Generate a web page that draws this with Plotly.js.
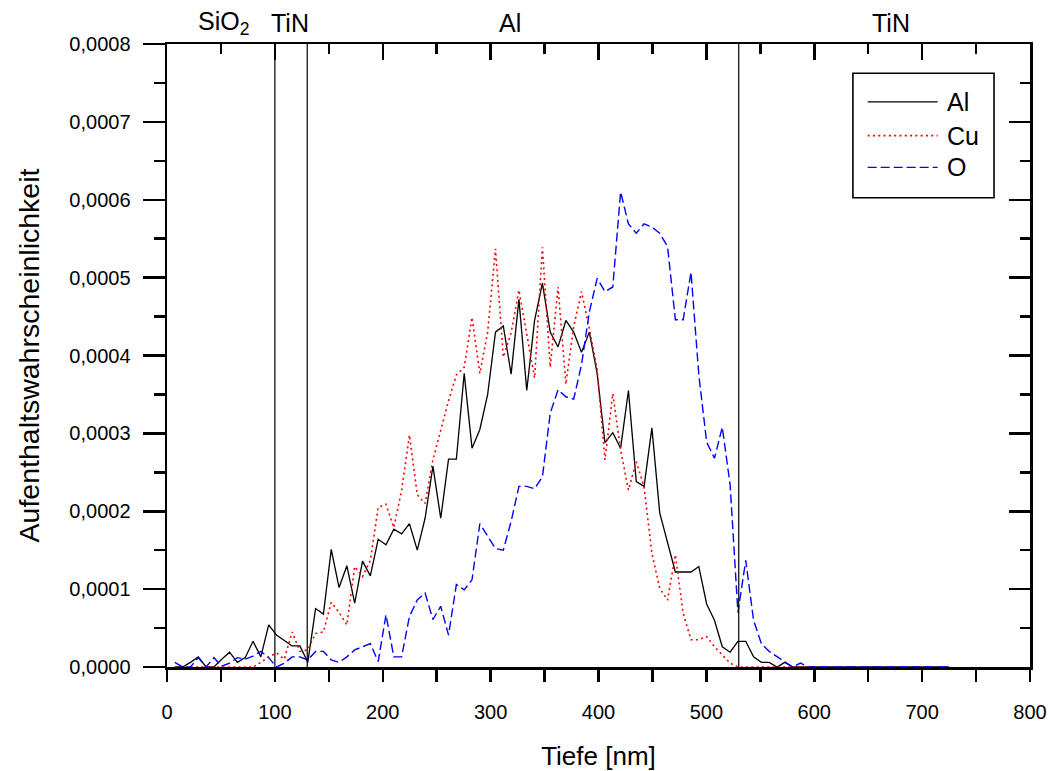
<!DOCTYPE html>
<html>
<head>
<meta charset="utf-8">
<script src="https://cdn.plot.ly/plotly-3.0.1.min.js"></script>
<style>html,body{margin:0;padding:0;background:#fff;}#chart{width:1050px;height:771px;}</style>
</head>
<body>
<div id="chart"></div>
<script>
// Depth (nm)
const depth = [7.25,14.5,21.75,29,36.25,43.5,50.75,58,65.25,72.5,
79.75,87,94.25,101.5,108.75,116,123.25,130.5,137.75,145,
152.25,159.5,166.75,174,181.25,188.5,195.75,203,210.25,217.5,
224.75,232,239.25,246.5,253.75,261,268.25,275.5,282.75,290,
297.25,304.5,311.75,319,326.25,333.5,340.75,348,355.25,362.5,
369.75,377,384.25,391.5,398.75,406,413.25,420.5,427.75,435,
442.25,449.5,456.75,464,471.25,478.5,485.75,493,500.25,507.5,
514.75,522,529.25,536.5,543.75,551,558.25,565.5,572.75,580,
587.25,594.5,601.75,609,616.25,623.5,630.75,638,645.25,652.5,
659.75,667,674.25,681.5,688.75,696,703.25,710.5,717.75,725];

// Values in units of 1e-4
const UNIT = 1e-4;
const alVals = [0,0,0.06,0.13,0,0,0.1,0.19,0.06,0.12,
0.33,0.13,0.54,0.41,0.34,0.27,0.27,0.06,0.75,0.68,
1.51,1.02,1.30,0.82,1.36,1.17,1.64,1.57,1.77,1.71,
1.84,1.50,1.91,2.58,1.91,2.67,2.67,3.77,2.81,3.05,
3.50,4.30,4.38,3.76,4.72,3.55,4.45,4.93,4.30,4.11,
4.45,4.30,4.04,4.30,3.77,2.88,3.01,2.81,3.55,2.38,
2.32,3.07,1.98,1.61,1.22,1.22,1.22,1.29,0.81,0.60,
0.26,0.19,0.33,0.33,0.13,0.06,0.06,0,0.06,0,
0,0,0,0,0,0,0,0,0,0,
0,0,0,0,0,0,0,0,0,0];

const cuVals = [0,0,0,0,0,0,0,0,0,0,
0,0.06,0.13,0.18,0.10,0.45,0.20,0.22,0.43,0.45,
0.83,0.70,0.54,1.29,1.16,1.37,2.05,2.09,1.79,2.27,
2.98,2.21,2.10,2.66,3.04,3.42,3.75,3.85,4.49,3.77,
4.30,5.37,3.98,4.29,4.84,4.30,3.71,5.39,3.85,4.88,
3.63,4.37,4.82,4.35,3.82,2.66,3.51,2.79,2.27,2.64,
2.31,1.46,1.01,0.86,1.44,0.69,0.35,0.35,0.39,0.26,
0.15,0.05,0,0,0,0,0,0,0,0,
0,0,0,0,0,0,0,0,0,0,
0,0,0,0,0,0,0,0,0,0];

const oVals = [0.06,0,0,0.12,0,0.12,0.01,0.05,0.12,0.10,
0.14,0.20,0.12,0,0.05,0.13,0.13,0.09,0.20,0.20,
0.09,0.06,0.13,0.22,0.26,0.30,0.07,0.67,0.13,0.13,
0.65,0.86,0.95,0.61,0.78,0.41,1.06,0.99,1.12,1.84,
1.68,1.52,1.50,1.87,2.32,2.32,2.29,2.44,3.26,3.56,
3.47,3.44,3.88,4.56,4.99,4.82,4.88,6.10,5.69,5.57,
5.69,5.65,5.57,5.40,4.46,4.46,5.07,3.75,2.89,2.68,
3.08,2.34,0.70,1.37,0.60,0.30,0.20,0.13,0.07,0,
0.05,0,0,0,0,0,0,0,0,0,
0,0,0,0,0,0,0,0,0,0];

const seriesNames = ['Al','Cu','O'];
const boundaries = [100,130,530];
const layerLabels = ['SiO<sub>2</sub>','TiN','Al','TiN'];
const layerPos = [52,114,318,671];
const xTickVals = [0,100,200,300,400,500,600,700,800];

const FONT = 'Liberation Sans, Arial, sans-serif';
const styles = [
  {color:'#000000', width:1.3, dash:'solid'},
  {color:'#ff0000', width:1.6, dash:'2px,3.3px'},
  {color:'#0000ff', width:1.4, dash:'9px,4px'}
];
const vals = [alVals, cuVals, oVals];

const traces = vals.map((v,i)=>({
  type:'scatter', mode:'lines', name:seriesNames[i],
  x: depth, y: v.map(a=>a*UNIT),
  line: styles[i], showlegend:false, cliponaxis:true
}));
// invisible trace so the mirrored frame axes exist
traces.push({type:'scatter', mode:'lines', x:[null], y:[null], xaxis:'x2', yaxis:'y2', showlegend:false, hoverinfo:'skip'});

const shapes = boundaries.map(b=>({
  type:'line', xref:'x', yref:'paper', x0:b, x1:b, y0:0, y1:1,
  line:{color:'#000', width:1.2}, layer:'above'
}));
// legend box
const lx0=0.7948, lx1=0.9583, ly0=0.7533, ly1=0.953;
shapes.push({type:'rect', xref:'paper', yref:'paper', x0:lx0, x1:lx1, y0:ly0, y1:ly1,
  line:{color:'#000', width:1.6}, fillcolor:'rgba(255,255,255,1)', layer:'above'});
const legY = [0.907, 0.853, 0.802];
seriesNames.forEach((n,i)=>{
  shapes.push({type:'line', xref:'paper', yref:'paper', x0:0.8119, x1:0.893, y0:legY[i], y1:legY[i],
    line:{color:styles[i].color, width:styles[i].width, dash:styles[i].dash}, layer:'above'});
});

const annotations = layerLabels.map((t,i)=>({
  text:t, x:layerPos[i], xref:'x', y:1.033, yref:'paper', showarrow:false,
  xanchor:'center', yanchor:'middle', font:{family:FONT, size:25, color:'#000'}
}));
seriesNames.forEach((n,i)=>{
  annotations.push({text:n, x:0.9015, xref:'paper', y:legY[i], yref:'paper', showarrow:false,
    xanchor:'left', yanchor:'middle', font:{family:FONT, size:25, color:'#000'}});
});

const layout = {
  width:1050, height:771, autosize:false,
  margin:{l:167, r:20, t:44, b:104, pad:0},
  paper_bgcolor:'#fff', plot_bgcolor:'#fff',
  separators:',.',
  font:{family:FONT, color:'#000'},
  showlegend:false,
  xaxis:{
    range:[0,800], tickvals:xTickVals, ticks:'outside', ticklen:12, tickwidth:2.5, tickcolor:'#000',
    showline:true, linewidth:2.5, linecolor:'#000', showgrid:false, zeroline:false,
    minor:{dtick:50, tick0:0, ticks:'outside', ticklen:12, tickwidth:2.5, tickcolor:'#000', showgrid:false},
    tickfont:{family:FONT, size:20, color:'#000'}, ticklabelstandoff:13,
    title:{text:'Tiefe [nm]', font:{family:FONT, size:26, color:'#000'}, standoff:27},
    automargin:false
  },
  xaxis2:{
    range:[0,800], overlaying:'x', side:'top', anchor:'y', tickvals:xTickVals, ticks:'inside', ticklen:16, tickwidth:2.5, tickcolor:'#000',
    showline:true, linewidth:2.5, linecolor:'#000', showgrid:false, zeroline:false, showticklabels:false,
    minor:{dtick:50, tick0:0, ticks:'inside', ticklen:10, tickwidth:2.5, tickcolor:'#000', showgrid:false},
    automargin:false
  },
  yaxis:{
    range:[0,0.0008], dtick:0.0001, tick0:0, tickformat:'.4f', ticks:'outside', ticklen:22, tickwidth:2.5, tickcolor:'#000',
    showline:true, linewidth:2.5, linecolor:'#000', showgrid:false, zeroline:false,
    minor:{dtick:0.00005, tick0:0, ticks:'outside', ticklen:11, tickwidth:2.5, tickcolor:'#000', showgrid:false},
    tickfont:{family:FONT, size:20, color:'#000'}, ticklabelstandoff:8,
    title:{text:'Aufenthaltswahrscheinlichkeit', font:{family:FONT, size:28.5, color:'#000'}, standoff:22},
    automargin:false
  },
  yaxis2:{
    range:[0,0.0008], overlaying:'y', side:'right', anchor:'x', dtick:0.0001, tick0:0, ticks:'inside', ticklen:21, tickwidth:2.5, tickcolor:'#000',
    showline:true, linewidth:2.5, linecolor:'#000', showgrid:false, zeroline:false, showticklabels:false,
    minor:{dtick:0.00005, tick0:0, ticks:'inside', ticklen:10, tickwidth:2.5, tickcolor:'#000', showgrid:false},
    automargin:false
  },
  shapes: shapes,
  annotations: annotations
};

Plotly.newPlot('chart', traces, layout, {displayModeBar:false, staticPlot:true});
</script>
</body>
</html>
